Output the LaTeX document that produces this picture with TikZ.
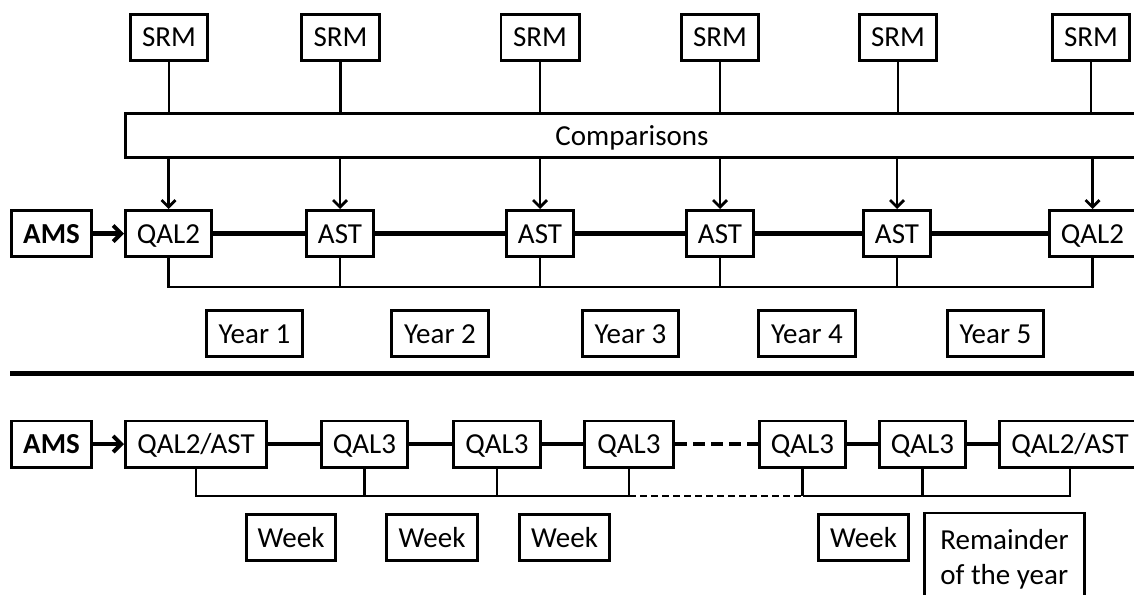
\documentclass[tikz,border=0pt]{standalone}
\usepackage{fontspec}
\setmainfont{Carlito}
\usetikzlibrary{arrows.meta}
\begin{document}
\begin{tikzpicture}[x=1pt,y=-1pt,
  bx/.style={draw, line width=2.8pt, minimum height=46.2pt, inner sep=0pt, text height=19pt, text depth=0pt, font=\fontsize{29}{35}\selectfont},
  thin/.style={line width=2.8pt},
  thick/.style={line width=4.6pt},
  arr/.style={line width=2.8pt, -{Straight Barb[length=7pt,width=14pt,line width=2.8pt]}},
  bigarr/.style={line width=4.6pt, -{Straight Barb[length=8pt,width=16pt,line width=4pt]}}
]
\useasboundingbox (0,0) rectangle (1134,594);
% top SRM boxes
\node[bx, minimum width=77.2pt] (s1) at (169,37.5) {SRM};
\node[bx, minimum width=78.2pt] (s2) at (340.5,37.5) {SRM};
\node[bx, minimum width=78.2pt] (s3) at (540,37.5) {SRM};
\node[bx, minimum width=77.2pt] (s4) at (720,37.5) {SRM};
\node[bx, minimum width=77.2pt] (s5) at (898,37.5) {SRM};
\node[bx, minimum width=77.2pt] (s6) at (1091,37.5) {SRM};
% comparisons
\node[bx, minimum width=1013.2pt, minimum height=44.2pt] (comp) at (632,135.5) {Comparisons};
% top row
\node[bx, minimum width=80.2pt, font=\fontsize{29}{35}\selectfont\bfseries] (ams1) at (51.5,233.5) {AMS};
\node[bx, minimum width=86.2pt] (q1) at (168.5,233.5) {QAL2};
\node[bx, minimum width=67.2pt] (q2) at (340,233.5) {AST};
\node[bx, minimum width=67.2pt] (q3) at (540,233.5) {AST};
\node[bx, minimum width=67.2pt] (q4) at (720,233.5) {AST};
\node[bx, minimum width=67.2pt] (q5) at (897,233.5) {AST};
\node[bx, minimum width=86.2pt] (q6) at (1092.5,233.5) {QAL2};
% SRM -> comparisons
\foreach \s in {s1,s2,s3,s4,s5,s6}{\draw[thin] (\s.south) -- (\s.south |- comp.north);}
% comparisons -> nodes
\foreach \q in {q1,q2,q3,q4,q5,q6}{\draw[arr] (\q.north |- comp.south) -- (\q.north);}
\draw[bigarr] (ams1) -- (q1);
\draw[thick] (q1) -- (q2);
\draw[thick] (q2) -- (q3);
\draw[thick] (q3) -- (q4);
\draw[thick] (q4) -- (q5);
\draw[thick] (q5) -- (q6);
% bracket
\coordinate (brT) at (0,287);
\draw[thin] (q1.south) -- (q1.south |- brT) -- (q6.south |- brT) -- (q6.south);
\foreach \q in {q2,q3,q4,q5}{\draw[thin] (\q.south) -- (\q.south |- brT);}
% years
\node[bx, minimum width=96.2pt] (y1) at (254.5,333.5) {Year 1};
\node[bx, minimum width=97.2pt] (y2) at (440,333.5) {Year 2};
\node[bx, minimum width=96.2pt] (y3) at (630.5,333.5) {Year 3};
\node[bx, minimum width=97.2pt] (y4) at (807,333.5) {Year 4};
\node[bx, minimum width=96.2pt] (y5) at (995.5,333.5) {Year 5};
% separator
\coordinate (sepL) at (10,373);
\coordinate (sepR) at (1134,373);
\draw[line width=5pt] (sepL) -- (sepR);
% bottom row
\node[bx, minimum width=80.2pt, font=\fontsize{29}{35}\selectfont\bfseries] (ams2) at (51.5,444) {AMS};
\node[bx, minimum width=141.2pt] (b1) at (196,444) {QAL2/AST};
\node[bx, minimum width=86.2pt] (b2) at (364.5,444) {QAL3};
\node[bx, minimum width=87.2pt] (b3) at (497,444) {QAL3};
\node[bx, minimum width=89.2pt] (b4) at (629,444) {QAL3};
\node[bx, minimum width=86.2pt] (b5) at (802.5,444) {QAL3};
\node[bx, minimum width=86.2pt] (b6) at (922.5,444) {QAL3};
\node[bx, minimum width=141.2pt] (b7) at (1070,444) {QAL2/AST};
\draw[bigarr] (ams2) -- (b1);
\draw[thick] (b1) -- (b2);
\draw[thick] (b2) -- (b3);
\draw[thick] (b3) -- (b4);
\draw[thick, dash pattern=on 12pt off 6pt] (b4) -- (b5);
\draw[thick] (b5) -- (b6);
\draw[thick] (b6) -- (b7);
\coordinate (brB) at (0,496);
\draw[thin] (b1.south) -- (b1.south |- brB) -- (b4.south |- brB);
\draw[thin, dash pattern=on 7pt off 4pt] (b4.south |- brB) -- (b5.south |- brB);
\draw[thin] (b5.south |- brB) -- (b7.south |- brB) -- (b7.south);
\foreach \b in {b2,b3,b4,b5,b6}{\draw[thin] (\b.south) -- (\b.south |- brB);}
% weeks
\node[bx, minimum width=89.2pt] (w1) at (291,537.5) {Week};
\node[bx, minimum width=91.2pt] (w2) at (432,537.5) {Week};
\node[bx, minimum width=90.2pt] (w3) at (564.5,537.5) {Week};
\node[bx, minimum width=90.2pt] (w4) at (863.5,537.5) {Week};
\node[draw, line width=2.8pt, inner sep=0pt, font=\fontsize{29}{35}\selectfont, minimum width=160.2pt, minimum height=92pt, align=left] (rem) at (1004.5,559) {Remainder\\of the year};
\end{tikzpicture}
\end{document}
